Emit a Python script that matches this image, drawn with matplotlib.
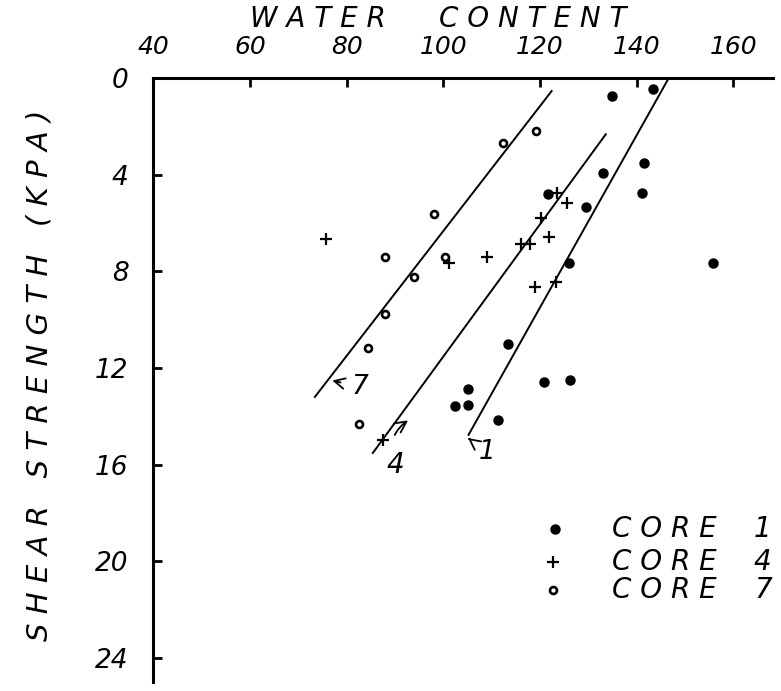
import matplotlib.pyplot as plt

# water content (%) and shear strength (kPa) per core
core1_w = [134.9, 143.4, 141.6, 133.1, 141.1, 121.7, 129.5, 126.0, 155.7,
           113.3, 120.9, 126.3, 105.0, 105.0, 102.5, 111.4]
core1_s = [0.74, 0.47, 3.50, 3.94, 4.77, 4.81, 5.32, 7.66, 7.66,
           11.0, 12.59, 12.52, 12.89, 13.53, 13.58, 14.15]

core4_w = [75.7, 123.6, 125.6, 120.3, 121.9, 116.0, 117.9, 109.1, 101.2,
           118.9, 123.2, 87.4]
core4_s = [6.67, 4.74, 5.18, 5.81, 6.60, 6.85, 6.87, 7.40, 7.67,
           8.66, 8.43, 15.0]

core7_w = [119.1, 112.4, 98.0, 87.9, 100.3, 94.0, 87.9, 84.3, 82.5]
core7_s = [2.19, 2.67, 5.63, 7.42, 7.42, 8.25, 9.77, 11.18, 14.31]

# hand fitted trend lines (end points)
fit1_w = [105.2, 146.5]
fit1_s = [14.77, 0.05]
fit4_w = [85.4, 133.6]
fit4_s = [15.52, 2.33]
fit7_w = [73.4, 122.4]
fit7_s = [13.2, 0.54]

xticks = [40, 60, 80, 100, 120, 140, 160]
yticks = [0, 4, 8, 12, 16, 20, 24]

plt.rcParams['font.family'] = 'DejaVu Sans'
plt.rcParams['font.style'] = 'italic'

fig = plt.figure(figsize=(7.81, 6.91), dpi=100)
ax = fig.add_axes([0.1965, 0.013, 0.7932, 0.8741])

ax.plot(fit1_w, fit1_s, color='black', lw=1.4)
ax.plot(fit4_w, fit4_s, color='black', lw=1.4)
ax.plot(fit7_w, fit7_s, color='black', lw=1.4)

ax.plot(core1_w, core1_s, 'o', color='black', ms=6.5, ls='none')
ax.plot(core4_w, core4_s, '+', color='black', ms=9, mew=1.6, ls='none')
ax.plot(core7_w, core7_s, 'o', mfc='white', mec='black', ms=5, mew=1.9, ls='none')

ax.set_xlim(40, 168.2)
ax.set_ylim(25, 0)
ax.xaxis.tick_top()
ax.set_xticks(xticks)
ax.set_yticks(yticks)
ax.tick_params(direction='in', length=6.5, width=2)
ax.tick_params(axis='x', pad=14, labelsize=18)
ax.tick_params(axis='y', pad=18, labelsize=19)
for side in ['right', 'bottom']:
    ax.spines[side].set_visible(False)
for side in ['top', 'left']:
    ax.spines[side].set_linewidth(2.2)

fig.text(438 / 781, 1 - 19 / 691, 'W A T E R      C O N T E N T',
         ha='center', va='center', fontsize=20)
fig.text(40 / 781, 1 - 375 / 691, 'S H E A R   S T R E N G T H   ( K P A )', rotation=90,
         ha='center', va='center', fontsize=21)

# labels pointing at the trend lines
ax.annotate('7', xy=(77.0, 12.52), xytext=(82.7, 12.8), ha='center', va='center', fontsize=19,
            arrowprops=dict(arrowstyle='->', color='black', lw=1.3, shrinkB=0, shrinkA=6))
ax.annotate('4', xy=(92.7, 14.17), xytext=(90.0, 16.03), ha='center', va='center', fontsize=20,
            arrowprops=dict(arrowstyle='->', color='black', lw=1.3, shrinkB=0, shrinkA=10,
                            connectionstyle='arc3,rad=-0.4'))
ax.annotate('1', xy=(105.1, 14.9), xytext=(109.0, 15.5), ha='center', va='center', fontsize=19,
            arrowprops=dict(arrowstyle='->', color='black', lw=1.3, shrinkB=0, shrinkA=6))

# key
key_rows = [18.68, 20.04, 21.2]
ax.plot([123.1], [key_rows[0]], 'o', color='black', ms=6.5)
ax.plot([122.6], [key_rows[1]], '+', color='black', ms=9, mew=1.6)
ax.plot([122.7], [key_rows[2]], 'o', mfc='white', mec='black', ms=5, mew=1.9)
for row, num in zip(key_rows, ['1', '4', '7']):
    ax.text(134.9, row, 'C O R E', ha='left', va='center', fontsize=20)
    ax.text(166.1, row, num, ha='center', va='center', fontsize=20)

fig.savefig('out.png', dpi=100)
